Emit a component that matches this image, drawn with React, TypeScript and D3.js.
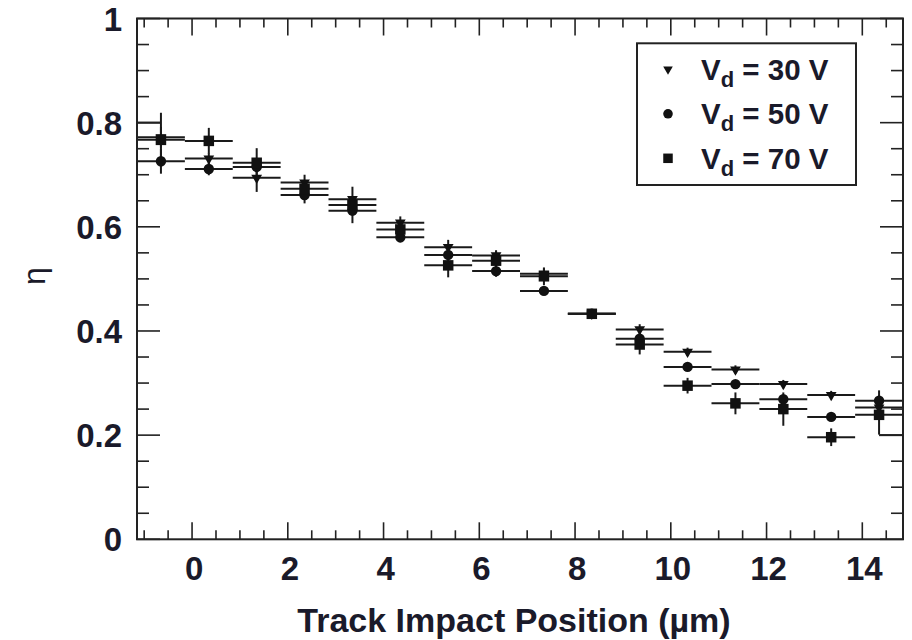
import React from "react";
import * as d3 from "d3";

// Bin centres (µm) – 1 µm wide bins
const binCenters = [-0.65, 0.35, 1.35, 2.35, 3.35, 4.35, 5.35, 6.35, 7.35, 8.35, 9.35, 10.35, 11.35, 12.35, 13.35, 14.35];
const binHalfWidth = 0.5;

// Vd = 30 V (triangles)
const eta30 = [0.772, 0.731, 0.694, 0.685, 0.653, 0.608, 0.561, 0.545, 0.51, 0.433, 0.403, 0.36, 0.326, 0.298, 0.277, 0.253];
const err30 = [0.02, 0.01, 0.027, 0.015, 0.024, 0.012, 0.014, 0.01, 0.01, 0.005, 0.01, 0.008, 0.008, 0.008, 0.008, 0.01];
// Vd = 50 V (circles)
const eta50 = [0.726, 0.711, 0.715, 0.661, 0.631, 0.58, 0.546, 0.515, 0.477, 0.433, 0.385, 0.331, 0.298, 0.269, 0.235, 0.266];
const err50 = [0.024, 0.012, 0.01, 0.016, 0.024, 0.01, 0.01, 0.011, 0.008, 0.005, 0.01, 0.008, 0.008, 0.008, 0.008, 0.02];
// Vd = 70 V (squares)
const eta70 = [0.767, 0.765, 0.723, 0.673, 0.642, 0.595, 0.526, 0.535, 0.505, 0.433, 0.374, 0.295, 0.261, 0.25, 0.196, 0.239];
const err70 = [0.052, 0.025, 0.028, 0.012, 0.012, 0.01, 0.023, 0.019, 0.017, 0.005, 0.019, 0.015, 0.021, 0.032, 0.017, 0.038];

// stray outline segments at the edges of the range (x from, x to, value)
const edgeFrom = [-1.15, 14.35];
const edgeTo = [-0.65, 14.85];
const edgeVal = [0.8, 0.2];

const xTickLabels = [0, 2, 4, 6, 8, 10, 12, 14];
const yTickLabels = [0, 0.2, 0.4, 0.6, 0.8, 1];
const legendLabels = ["30", "50", "70"];

const W = 912;
const H = 640;
const left = 137;
const right = 903;
const top = 18.5;
const bottom = 539.3;
const FONT = "'Liberation Sans', Arial, Helvetica, sans-serif";
const TXT = "#1a1a2a";

export default function App() {
  const x = d3.scaleLinear().domain([-1.15, 14.85]).range([left, right]);
  const y = d3.scaleLinear().domain([0, 1]).range([bottom, top]);

  const xMinor = d3.range(-1, 14.85, 0.5);
  const yMinor = d3.range(0, 1.001, 0.05);

  const series = [
    { vals: eta30, errs: err30, shape: "tri" },
    { vals: eta50, errs: err50, shape: "circ" },
    { vals: eta70, errs: err70, shape: "sq" },
  ];

  const triPath = d3.symbol().type(d3.symbolTriangle).size(50)() as string;
  const triPathLegend = d3.symbol().type(d3.symbolTriangle).size(40)() as string;

  const marker = (shape: string, cx: number, cy: number, key: string, legend = false) => {
    if (shape === "tri")
      return (
        <path key={key} d={legend ? triPathLegend : triPath} transform={`translate(${cx},${cy}) rotate(180)`} fill="#111" />
      );
    if (shape === "circ") return <circle key={key} cx={cx} cy={cy} r={legend ? 4.8 : 5.2} fill="#111" />;
    const s = legend ? 9.5 : 10.5;
    return <rect key={key} x={cx - s / 2} y={cy - s / 2} width={s} height={s} fill="#111" />;
  };

  return (
    <svg width={W} height={H} style={{ position: "absolute", left: 0, top: 0, background: "#fff" }}>
      <rect x={0} y={0} width={W} height={H} fill="#fff" />
      {/* data */}
      {edgeFrom.map((f, i) => (
        <line key={"edge" + i} x1={x(f)} x2={x(edgeTo[i])} y1={y(edgeVal[i])} y2={y(edgeVal[i])} stroke="#1a1a1a" strokeWidth={2} />
      ))}
      {series.map((s, si) => (
        <g key={si}>
          {binCenters.map((c, i) => (
            <g key={i}>
              <line
                x1={Math.max(x(c - binHalfWidth), left)}
                x2={Math.min(x(c + binHalfWidth), right)}
                y1={y(s.vals[i])}
                y2={y(s.vals[i])}
                stroke="#1a1a1a"
                strokeWidth={2}
              />
              <line
                x1={x(c)}
                x2={x(c)}
                y1={y(s.vals[i] - s.errs[i])}
                y2={y(s.vals[i] + s.errs[i])}
                stroke="#1a1a1a"
                strokeWidth={2}
              />
            </g>
          ))}
        </g>
      ))}
      {series.map((s, si) => (
        <g key={"m" + si}>{binCenters.map((c, i) => marker(s.shape, x(c), y(s.vals[i]), `${si}-${i}`))}</g>
      ))}

      {/* frame */}
      <rect x={left} y={top} width={right - left} height={bottom - top} fill="none" stroke="#222" strokeWidth={2} />
      {/* x ticks */}
      {xMinor.map((v, i) => {
        const major = Math.abs(v / 2 - Math.round(v / 2)) < 1e-6;
        const len = major ? 17 : 9;
        return (
          <g key={"xt" + i}>
            <line x1={x(v)} x2={x(v)} y1={bottom} y2={bottom - len} stroke="#222" strokeWidth={1.6} />
            <line x1={x(v)} x2={x(v)} y1={top} y2={top + len} stroke="#222" strokeWidth={1.6} />
          </g>
        );
      })}
      {yMinor.map((v, i) => {
        const major = Math.abs(v / 0.2 - Math.round(v / 0.2)) < 1e-6;
        const len = major ? 23 : 12;
        return (
          <g key={"yt" + i}>
            <line x1={left} x2={left + len} y1={y(v)} y2={y(v)} stroke="#222" strokeWidth={1.6} />
            <line x1={right} x2={right - len} y1={y(v)} y2={y(v)} stroke="#222" strokeWidth={1.6} />
          </g>
        );
      })}
      {/* tick labels */}
      {xTickLabels.map((v) => (
        <text key={"xl" + v} x={x(v) + 2} y={580} textAnchor="middle" fontFamily={FONT} fontWeight="bold" fontSize={33} fill={TXT}>
          {v}
        </text>
      ))}
      {yTickLabels.map((v) => (
        <text key={"yl" + v} x={122} y={y(v) + 12} textAnchor="end" fontFamily={FONT} fontWeight="bold" fontSize={33} fill={TXT}>
          {v}
        </text>
      ))}
      {/* axis titles */}
      <text x={514} y={632} textAnchor="middle" fontFamily={FONT} fontWeight="bold" fontSize={34} fill={TXT}>
        Track Impact Position (µm)
      </text>
      <text transform={`translate(45,276) rotate(-90)`} textAnchor="middle" fontFamily={FONT} fontSize={32} fill={TXT}>
        η
      </text>

      {/* legend */}
      <rect x={637} y={43.3} width={219} height={141.7} fill="#fff" stroke="#222" strokeWidth={2} />
      {legendLabels.map((lab, i) => {
        const cy = 69.3 + i * 44.5;
        return (
          <g key={"lg" + i}>
            {marker(series[i].shape, 668, cy, "lm" + i, true)}
            <text x={701} y={cy + 10.5} fontFamily={FONT} fontWeight="bold" fontSize={29.5} fill={TXT}>
              V
              <tspan fontSize={22} dy={7}>
                d
              </tspan>
              <tspan dy={-7}>{` = ${lab} V`}</tspan>
            </text>
          </g>
        );
      })}
    </svg>
  );
}
